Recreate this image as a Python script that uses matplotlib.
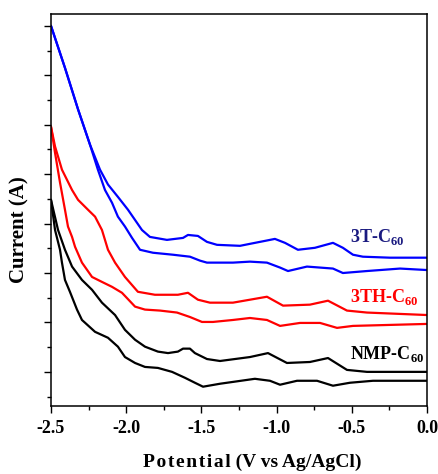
#!/usr/bin/env python
# -*- coding: utf-8 -*-
"""Cyclic voltammograms of 3T-C60, 3TH-C60 and NMP-C60 (stacked, offset)."""

import matplotlib
matplotlib.use("Agg")
import matplotlib.pyplot as plt
from matplotlib.ticker import MultipleLocator, NullFormatter

plt.rcParams['font.family'] = ['Liberation Serif', 'DejaVu Serif']
plt.rcParams['font.weight'] = 'bold'
plt.rcParams['mathtext.fontset'] = 'custom'
plt.rcParams['mathtext.rm'] = 'Liberation Serif:bold'
plt.rcParams['mathtext.bf'] = 'Liberation Serif:bold'

# --- data (potential in V, current in arbitrary offset units) ---
t3_fwd_x = [-2.500, -2.407, -2.320, -2.241, -2.174, -2.121, -2.055, -1.988, -1.895, -1.842,
            -1.729, -1.622, -1.589, -1.523, -1.463, -1.396, -1.243, -1.177, -1.077, -1.011,
            -0.944, -0.858, -0.745, -0.625, -0.559, -0.492, -0.426, -0.246, 0.000]
t3_fwd_y = [8.00, 7.15, 6.31, 5.60, 5.09, 4.79, 4.54, 4.28, 3.87, 3.73,
            3.67, 3.71, 3.77, 3.75, 3.63, 3.57, 3.55, 3.59, 3.65, 3.69,
            3.61, 3.47, 3.51, 3.61, 3.51, 3.37, 3.33, 3.31, 3.31]
t3_rev_x = [-2.500, -2.407, -2.320, -2.241, -2.188, -2.141, -2.094, -2.055, -2.008, -1.961,
            -1.908, -1.822, -1.689, -1.576, -1.509, -1.463, -1.290, -1.177, -1.064, -0.977,
            -0.924, -0.798, -0.625, -0.559, -0.399, -0.179, 0.000]
t3_rev_y = [8.00, 7.15, 6.31, 5.60, 5.09, 4.68, 4.42, 4.14, 3.94, 3.71,
            3.47, 3.41, 3.37, 3.33, 3.25, 3.21, 3.21, 3.23, 3.21, 3.11,
            3.04, 3.13, 3.09, 3.00, 3.04, 3.09, 3.06]

th_fwd_x = [-2.500, -2.473, -2.427, -2.360, -2.320, -2.254, -2.207, -2.161, -2.121, -2.074,
            -2.008, -1.922, -1.809, -1.656, -1.589, -1.523, -1.443, -1.290, -1.177, -1.064,
            -0.957, -0.778, -0.658, -0.532, -0.399, 0.000]
th_fwd_y = [5.96, 5.56, 5.09, 4.68, 4.48, 4.28, 4.14, 3.87, 3.47, 3.21,
            2.92, 2.62, 2.56, 2.56, 2.60, 2.46, 2.40, 2.40, 2.46, 2.52,
            2.34, 2.36, 2.44, 2.24, 2.20, 2.15]
th_rev_x = [-2.500, -2.473, -2.440, -2.407, -2.387, -2.360, -2.340, -2.294, -2.227, -2.161,
            -2.094, -2.028, -1.941, -1.875, -1.775, -1.662, -1.576, -1.496, -1.423, -1.290,
            -1.177, -1.064, -0.977, -0.844, -0.711, -0.598, -0.492, 0.000]
th_rev_y = [5.96, 5.43, 4.83, 4.28, 3.94, 3.73, 3.53, 3.21, 2.92, 2.82,
            2.72, 2.60, 2.32, 2.26, 2.24, 2.20, 2.11, 2.01, 2.01, 2.05,
            2.09, 2.05, 1.93, 1.99, 1.99, 1.89, 1.93, 1.97]

nmp_fwd_x = [-2.500, -2.453, -2.407, -2.360, -2.294, -2.227, -2.161, -2.074, -2.008, -1.941,
             -1.875, -1.789, -1.722, -1.656, -1.622, -1.576, -1.543, -1.463, -1.376, -1.177,
             -1.057, -0.931, -0.778, -0.658, -0.532, -0.399, 0.000]
nmp_fwd_y = [4.48, 3.87, 3.47, 3.13, 2.86, 2.66, 2.40, 2.15, 1.85, 1.65,
             1.51, 1.41, 1.38, 1.41, 1.47, 1.47, 1.38, 1.26, 1.22, 1.30,
             1.38, 1.18, 1.20, 1.28, 1.04, 1.00, 1.00]
nmp_rev_x = [-2.500, -2.473, -2.440, -2.427, -2.407, -2.374, -2.327, -2.294, -2.207, -2.121,
             -2.055, -2.008, -1.941, -1.875, -1.789, -1.695, -1.609, -1.543, -1.489, -1.376,
             -1.144, -1.044, -0.977, -0.864, -0.731, -0.625, -0.512, -0.359, 0.000]
nmp_rev_y = [4.48, 3.87, 3.47, 3.21, 2.86, 2.62, 2.26, 2.05, 1.81, 1.69,
             1.51, 1.30, 1.18, 1.10, 1.08, 1.00, 0.88, 0.78, 0.70, 0.76,
             0.86, 0.82, 0.74, 0.82, 0.82, 0.72, 0.78, 0.82, 0.82]

labels = [r'3T-C$_{60}$', r'3TH-C$_{60}$', r'NMP-C$_{60}$']
label_pos = [(-0.51, 3.63), (-0.51, 2.42), (-0.51, 1.27)]
label_colors = ['#1a1a80', '#ff0000', '#000000']


def main():
    fig = plt.figure(figsize=(4.38, 4.74), dpi=100)
    ax = fig.add_axes([0.1164, 0.1435, 0.8584, 0.827])

    style = dict(lw=1.6, solid_joinstyle='round', solid_capstyle='round')
    ax.plot(t3_fwd_x, t3_fwd_y, color='#0000ff', **style)
    ax.plot(t3_rev_x, t3_rev_y, color='#0000ff', **style)
    ax.plot(th_fwd_x, th_fwd_y, color='#ff0000', **style)
    ax.plot(th_rev_x, th_rev_y, color='#ff0000', **style)
    ax.plot(nmp_fwd_x, nmp_fwd_y, color='#000000', **style)
    ax.plot(nmp_rev_x, nmp_rev_y, color='#000000', **style)

    for txt, (x, y), c in zip(labels, label_pos, label_colors):
        ax.text(x, y, txt, color=c, fontsize=13, fontweight='bold', va='baseline')

    ax.set_xlim(-2.5, 0.0)
    ax.set_ylim(0.31, 8.24)
    ax.xaxis.set_major_locator(MultipleLocator(0.5))
    ax.xaxis.set_minor_locator(MultipleLocator(0.25))
    ax.yaxis.set_major_locator(MultipleLocator(1.0))
    ax.yaxis.set_minor_locator(MultipleLocator(0.5))
    ax.yaxis.set_major_formatter(NullFormatter())
    ax.xaxis.set_major_formatter(lambda v, p: f'{v:.1f}')

    ax.tick_params(which='both', direction='out', top=False, right=False, width=1.0)
    ax.tick_params(which='major', length=5)
    ax.tick_params(which='minor', length=3)
    ax.tick_params(axis='x', labelsize=13, pad=5)
    for s in ax.spines.values():
        s.set_linewidth(1.1)

    hs = '\u200a'
    ax.set_xlabel(hs.join('Potential') + ' (V vs Ag/AgCl)', fontsize=14, fontweight='bold')
    ax.set_ylabel('Current (A)', fontsize=15, fontweight='bold')
    ax.xaxis.set_label_coords(0.535, -0.143)
    ax.yaxis.set_label_coords(-0.085, 0.449)
    ax.xaxis.label.set_va('center')
    ax.yaxis.label.set_va('center')

    fig.savefig('out.png', dpi=100)


if __name__ == '__main__':
    main()
